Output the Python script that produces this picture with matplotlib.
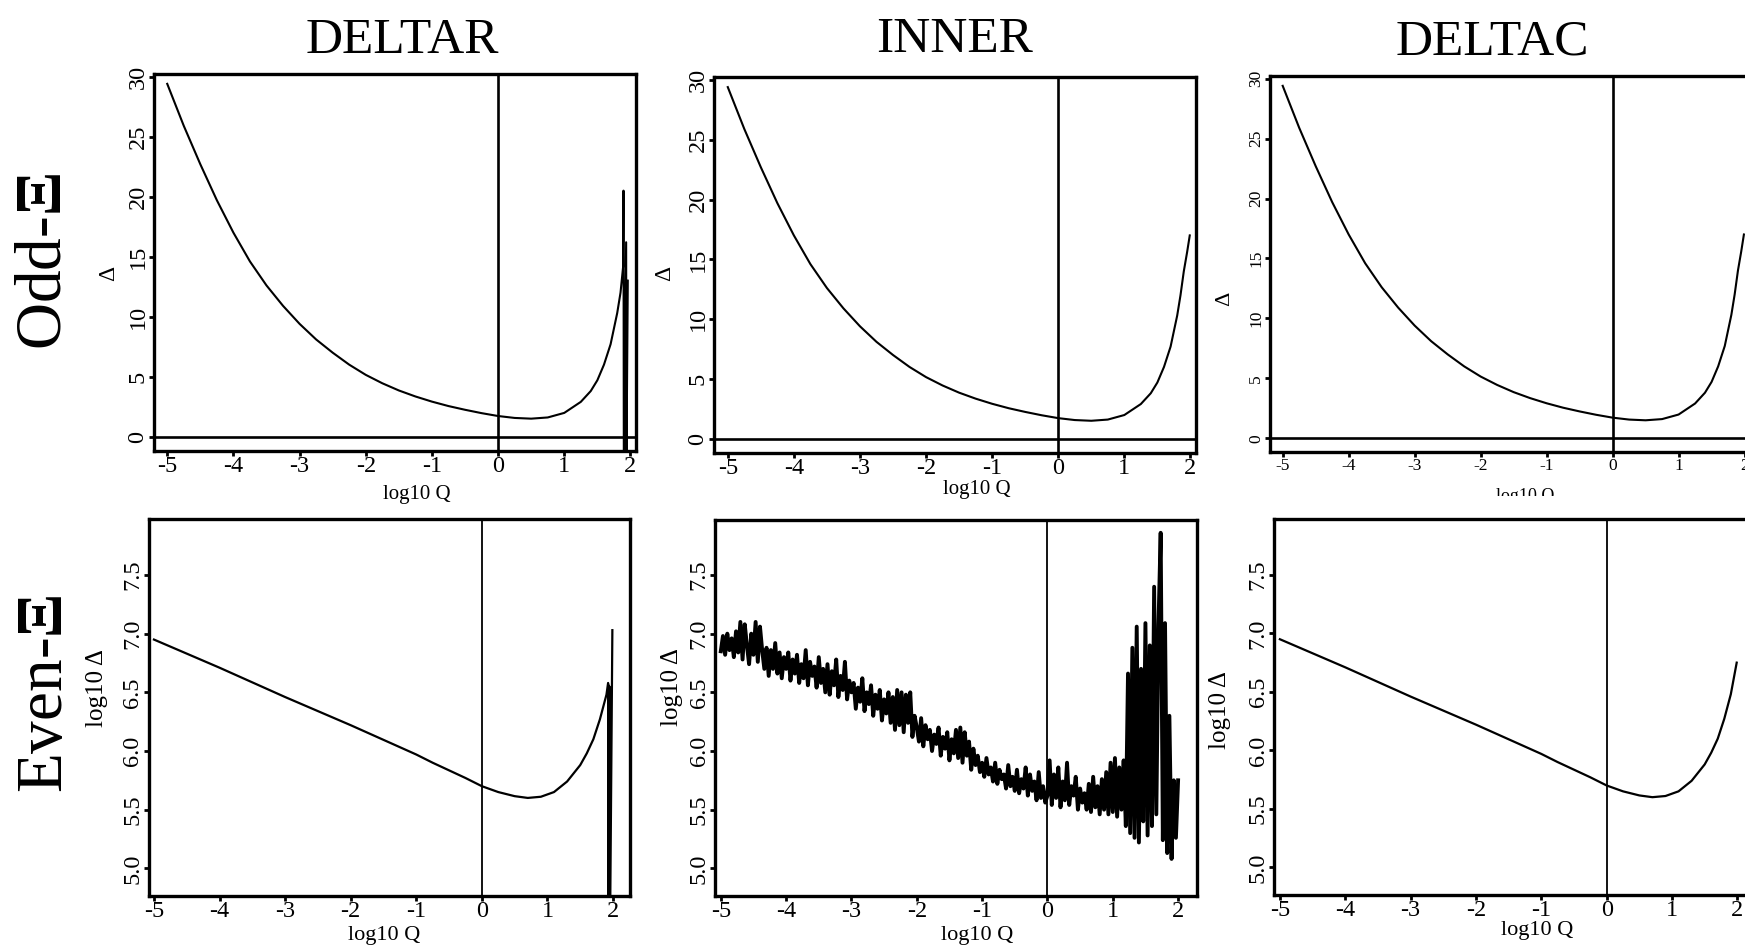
import numpy as np
import matplotlib
matplotlib.use('Agg')
import matplotlib.pyplot as plt
from matplotlib.transforms import Bbox, TransformedBbox

plt.rcParams['font.family'] = ['Liberation Serif', 'DejaVu Serif']
plt.rcParams['mathtext.fontset'] = 'custom'
plt.rcParams['mathtext.rm'] = 'Liberation Serif'
plt.rcParams['mathtext.bf'] = 'Liberation Serif:bold'

W, H = 1745, 948

# ---- data ----
columns = ['DELTAR', 'INNER', 'DELTAC']
rows = [r'Odd-$\mathbf{\Xi}$', r'Even-$\mathbf{\Xi}$']
xticks = [-5, -4, -3, -2, -1, 0, 1, 2]
xtick_labels = ['-5', '-4', '-3', '-2', '-1', '0', '1', '2']
top_yticks = [0, 5, 10, 15, 20, 25, 30]
bot_yticks = [5.0, 5.5, 6.0, 6.5, 7.0, 7.5]

# Odd: Delta vs log10 Q (smooth curve, INNER and DELTAC)
top_q = [-5.0, -4.75, -4.5, -4.25, -4.0, -3.75, -3.5, -3.25, -3.0, -2.75, -2.5,
         -2.25, -2.0, -1.75, -1.5, -1.25, -1.0, -0.75, -0.5, -0.25, 0.0, 0.25,
         0.5, 0.75, 1.0, 1.25, 1.4, 1.5, 1.6, 1.7, 1.8, 1.85, 1.9, 1.95, 1.99]
top_d = [29.4, 25.9, 22.7, 19.7, 17.0, 14.6, 12.6, 10.9, 9.4, 8.1, 7.0,
         6.0, 5.15, 4.45, 3.85, 3.35, 2.92, 2.55, 2.24, 1.96, 1.72, 1.56,
         1.5, 1.6, 1.98, 2.9, 3.8, 4.7, 6.0, 7.7, 10.3, 12.0, 14.0, 15.6, 17.0]
# DELTAR odd: same curve up to 1.85, then breaks down
deltar_top_tail_q = [1.89, 1.895, 1.90, 1.935, 1.94, 1.96]
deltar_top_tail_d = [14.2, 20.5, -2.0, 16.2, -2.0, 13.0]

# Even: log10 Delta vs log10 Q
bot_q = [-5.0, -4.5, -4.0, -3.5, -3.0, -2.5, -2.0, -1.5, -1.0, -0.75, -0.5,
         -0.25, 0.0, 0.25, 0.5, 0.7, 0.9, 1.1, 1.3, 1.5, 1.6, 1.7, 1.8, 1.9, 1.99]
bot_d = [6.95, 6.83, 6.71, 6.585, 6.46, 6.34, 6.22, 6.095, 5.97, 5.90, 5.835,
         5.77, 5.70, 5.65, 5.615, 5.60, 5.61, 5.65, 5.74, 5.88, 5.98, 6.10,
         6.27, 6.48, 6.75]
deltar_bot_tail_q = [1.925, 1.93, 1.935, 1.94, 1.945, 1.955, 1.99]
deltar_bot_tail_d = [6.58, 4.5, 6.56, 4.5, 6.55, 4.5, 7.03]

# INNER even: noisy trace, 30 samples per unit of log10 Q
inner_bot_q = np.linspace(-5, 2, 211)
inner_bot_d = [
    6.85, 6.98, 6.82, 7.00, 6.86, 6.96, 6.80, 7.02, 6.84, 7.10, 6.78, 7.08, 6.90, 6.74, 7.00,
    6.82, 7.10, 6.76, 7.06, 6.86, 6.70, 6.88, 6.64, 6.86, 6.70, 6.92, 6.66, 6.84, 6.62, 6.80,
    6.70, 6.84, 6.60, 6.78, 6.66, 6.82, 6.58, 6.74, 6.62, 6.86, 6.56, 6.76, 6.64, 6.72, 6.54,
    6.80, 6.58, 6.70, 6.50, 6.74, 6.48, 6.68, 6.56, 6.78, 6.46, 6.64, 6.52, 6.76, 6.44, 6.60,
    6.50, 6.58, 6.36, 6.54, 6.42, 6.62, 6.34, 6.50, 6.40, 6.56, 6.30, 6.48, 6.36, 6.52, 6.26,
    6.44, 6.32, 6.50, 6.24, 6.46, 6.18, 6.52, 6.22, 6.50, 6.16, 6.48, 6.24, 6.50, 6.12, 6.30,
    6.20, 6.08, 6.28, 6.04, 6.22, 6.10, 6.18, 6.00, 6.14, 6.06, 6.20, 5.96, 6.12, 6.02, 6.16,
    5.92, 6.10, 5.98, 6.18, 5.94, 6.20, 5.90, 6.16, 5.96, 6.08, 5.84, 6.02, 5.88, 5.96, 5.82,
    5.90, 5.78, 5.94, 5.80, 5.86, 5.74, 5.90, 5.72, 5.84, 5.76, 5.80, 5.68, 5.88, 5.70, 5.78,
    5.66, 5.84, 5.64, 5.76, 5.68, 5.86, 5.62, 5.80, 5.66, 5.74, 5.58, 5.82, 5.60, 5.70, 5.56,
    5.62, 5.92, 5.54, 5.80, 5.60, 5.86, 5.52, 5.74, 5.58, 5.90, 5.54, 5.70, 5.62, 5.78, 5.50,
    5.68, 5.56, 5.64, 5.50, 5.72, 5.48, 5.78, 5.52, 5.70, 5.46, 5.76, 5.50, 5.82, 5.46, 5.90,
    5.48, 5.94, 5.44, 5.86, 5.50, 5.92, 5.36, 6.66, 5.30, 6.88, 5.26, 7.06, 5.22, 6.70, 5.40,
    7.09, 5.28, 6.90, 5.36, 7.40, 5.46, 7.08, 7.86, 5.24, 7.09, 5.13, 6.30, 5.08, 5.75, 5.26,
    5.75]

fig = plt.figure(figsize=(W / 100, H / 100), dpi=100)


def add_ax(l, t, r, b):
    return fig.add_axes([l / W, 1 - b / H, (r - l) / W, (b - t) / H])


def style(ax, xlim, ylim, yticks, yfmt, fs, xlab, ylab, xl_pos, yl_pos, lab_fs, ylab_fs):
    ax.set_xlim(*xlim)
    ax.set_ylim(*ylim)
    ax.set_xticks(xticks)
    ax.set_xticklabels(xtick_labels, fontsize=fs)
    ax.set_yticks(yticks)
    ax.set_yticklabels([yfmt % v for v in yticks], fontsize=fs, rotation=90, va='center')
    ax.tick_params(direction='out', length=3.4, width=2, pad=0.5)
    for s in ax.spines.values():
        s.set_linewidth(2.4)
    ax.set_xlabel(xlab, fontsize=lab_fs)
    ax.set_ylabel(ylab, fontsize=ylab_fs)
    ax.xaxis.set_label_coords(*xl_pos)
    ax.yaxis.set_label_coords(*yl_pos)
    ax.xaxis.label.set_va('center')
    ax.yaxis.label.set_va('center')


# ---- top row (Odd) ----
ax1 = add_ax(154.0, 74, 636.2, 450.7)
ax1.plot(top_q[:-3] + deltar_top_tail_q, top_d[:-3] + deltar_top_tail_d, color='black', lw=1.5)
style(ax1, (-5.2, 2.087), (-1.17, 30.22), top_yticks, '%d', 17.5, 'log10 Q', 'Δ',
      (0.546, -0.115), (-0.094, 0.471), 15, 17)

ax2 = add_ax(713.9, 77.3, 1196.1, 452.7)
ax2.plot(top_q, top_d, color='black', lw=1.5)
style(ax2, (-5.21, 2.086), (-1.17, 30.22), top_yticks, '%d', 17.5, 'log10 Q', 'Δ',
      (0.546, -0.097), (-0.103, 0.478), 15, 17)

ax3 = add_ax(1269.5, 76, 1750.3, 452.3)
ax3.plot(top_q, top_d, color='black', lw=1.5)
style(ax3, (-5.2, 2.087), (-1.17, 30.22), top_yticks, '%d', 12.5, 'log10 Q', 'Δ',
      (0.531, -0.118), (-0.094, 0.409), 13, 16)

for ax in (ax1, ax2, ax3):
    ax.axhline(0, color='black', lw=1.9)
    ax.axvline(0, color='black', lw=1.9)

# label of the third top panel is cut by the lower image
lab = ax3.xaxis.label
lab.set_clip_on(True)
lab.set_clip_box(TransformedBbox(Bbox.from_extents(0, (H - 496) / H, 1, 1), fig.transFigure))

# ---- bottom row (Even) ----
ax4 = add_ax(148.7, 519.3, 630.4, 896)
ax4.plot(bot_q[:-1] + deltar_bot_tail_q, bot_d[:-1] + deltar_bot_tail_d, color='black', lw=1.6)
style(ax4, (-5.08, 2.265), (4.764, 7.975), bot_yticks, '%.1f', 17.5, 'log10 Q', 'log10 Δ',
      (0.488, -0.106), (-0.108, 0.552), 16, 18)

ax5 = add_ax(715.1, 520, 1197.3, 896)
ax5.plot(inner_bot_q, inner_bot_d, color='black', lw=2.8)
style(ax5, (-5.087, 2.294), (4.764, 7.969), bot_yticks, '%.1f', 17.5, 'log10 Q', 'log10 Δ',
      (0.544, -0.106), (-0.090, 0.556), 16, 18)

ax6 = add_ax(1274.0, 519.3, 1755.0, 895)
ax6.plot(bot_q, bot_d, color='black', lw=1.6)
style(ax6, (-5.09, 2.27), (4.764, 7.975), bot_yticks, '%.1f', 17.5, 'log10 Q', 'log10 Δ',
      (0.547, -0.094), (-0.112, 0.492), 16, 18)

for ax in (ax4, ax5, ax6):
    ax.axvline(0, color='black', lw=1.3)

# ---- column titles and row labels ----
for x, y, name in zip([0.2303, 0.5468, 0.8554], [0.9438, 0.9455, 0.942], columns):
    fig.text(x, y, name, fontsize=37, ha='center', va='baseline')

fig.text(0.0255, 0.724, rows[0], fontsize=47, rotation=90, ha='center', va='center')
fig.text(0.0265, 0.2687, rows[1], fontsize=47, rotation=90, ha='center', va='center')

fig.savefig('out.png', dpi=100)
